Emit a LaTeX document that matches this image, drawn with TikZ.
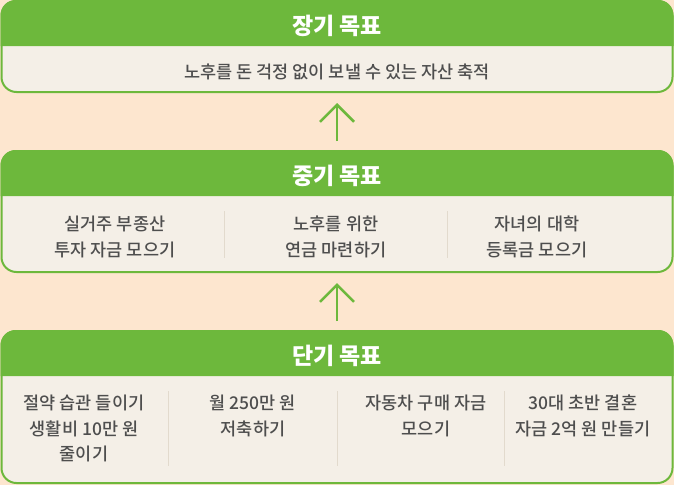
\documentclass[tikz,border=0pt]{standalone}
\usepackage{fontspec}
\setmainfont{Noto Sans CJK KR}
\newfontfamily\medium{Noto Sans CJK KR Medium}
\usetikzlibrary{arrows.meta,positioning}
\definecolor{leaf}{HTML}{6DB83C}
\definecolor{peach}{HTML}{FDE6CF}
\definecolor{paper}{HTML}{F4EFE7}
\definecolor{ink}{HTML}{4E4E4E}
\definecolor{seam}{HTML}{E2DACD}
\newcommand{\header}[1]{\fill[leaf, rounded corners=15pt] ([yshift=-46pt]#1.north west) -- (#1.north west) -- (#1.north east) -- ([yshift=-46pt]#1.north east);}

\begin{document}
\begin{tikzpicture}[x=1pt,y=-1pt,
  panel/.style={draw=leaf, line width=2pt, fill=paper, rounded corners=15pt, minimum width=671pt, inner sep=0pt},
  title/.style={text=white, font=\bfseries\fontsize{23}{23}\selectfont},
  item/.style={text=ink, font=\medium\fontsize{17.5}{25.5}\selectfont, align=center, anchor=north, inner sep=0pt},
  up/.style={draw=leaf, line width=2.5pt, -{Straight Barb[length=17pt, width=34pt]}}]
\fill[peach] (0,0) rectangle (674,485);
\node [panel, minimum height=91pt] (long) at (337,46.5) {};
\node [panel, minimum height=121pt] (mid) at (337,211.5) {};
\node [panel, minimum height=152pt] (short) at (337,407) {};
\header{long} \header{mid} \header{short}
\node [title] (longT) at (337,25.5) {장기 목표};
\node [title] (midT) at (337,175.5) {중기 목표};
\node [title] (shortT) at (337,355.5) {단기 목표};
\node [item] (long1) at (337,64) {노후를 돈 걱정 없이 보낼 수 있는 자산 축적};
% mid-term goals
\node [item] (mid1) at (115,216) {실거주 부종산\\투자 자금 모으기};
\node [item] (mid2) at (336,216) {노후를 위한\\연금 마련하기};
\node [item] (mid3) at (537,216) {자녀의 대학\\등록금 모으기};
\draw[seam] (224,211) -- (224,258) (447,211) -- (447,258);
% short-term goals
\node [item] (short1) at (84,395) {절약 습관 들이기\\생활비 10만 원\\줄이기};
\node [item] (short2) at (253,395) {월 250만 원\\저축하기};
\node [item] (short3) at (426,395) {자동차 구매 자금\\모으기};
\node [item] (short4) at (583,395) {30대 초반 결혼\\자금 2억 원 만들기};
\draw[seam] (168,391) -- (168,466) (337,391) -- (337,466) (504,391) -- (504,466);
\draw[up, shorten <=9pt, shorten >=10pt] (mid.north) -- (long.south);
\draw[up, shorten <=9pt, shorten >=10pt] (short.north) -- (mid.south);
\end{tikzpicture}
\end{document}
